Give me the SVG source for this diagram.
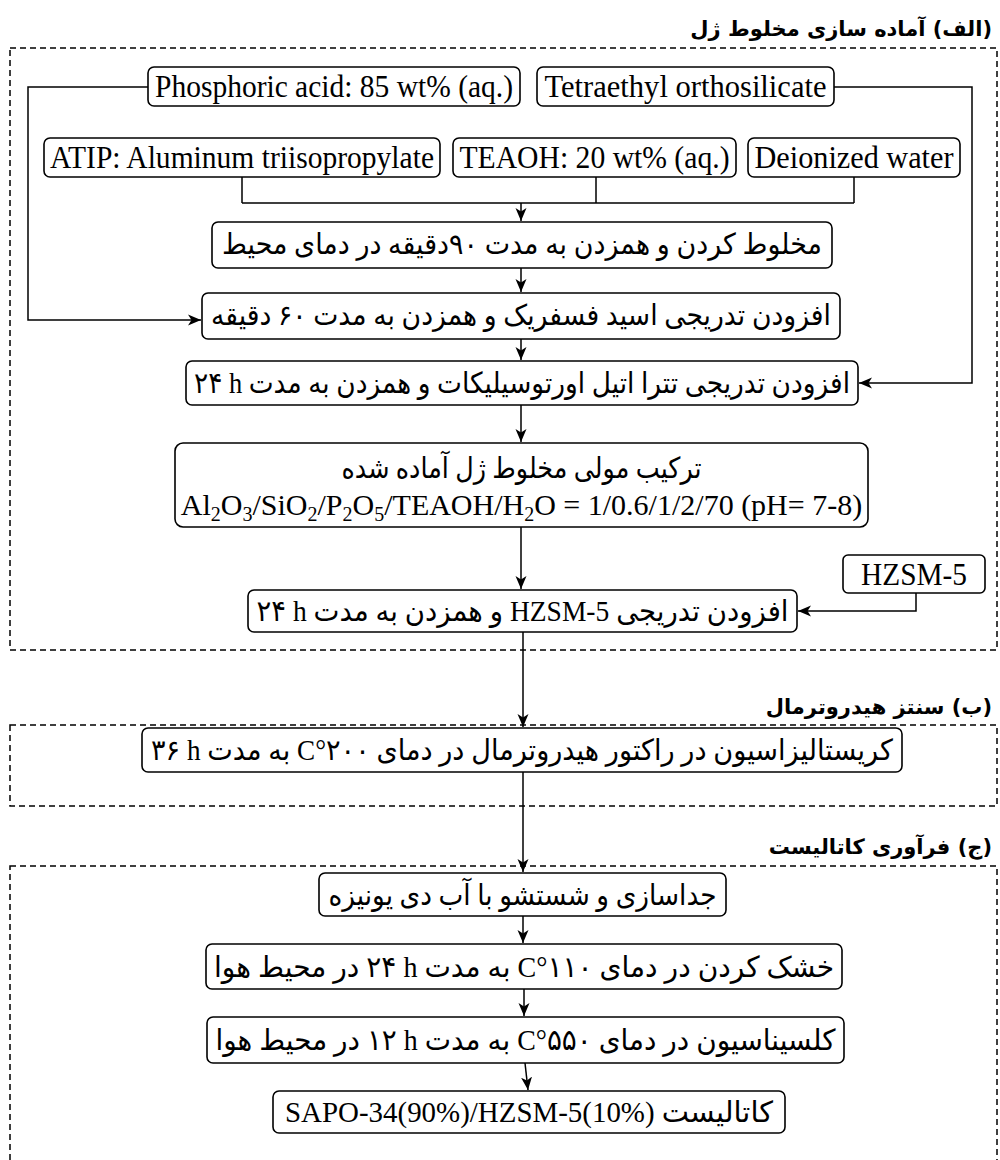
<svg xmlns="http://www.w3.org/2000/svg" width="1000" height="1160" viewBox="0 0 1000 1160">
<style>
.frame{fill:none;stroke:#000;stroke-width:1.5;stroke-dasharray:6 4}
.box{fill:#fff;stroke:#000;stroke-width:1.6}
.conn{fill:none;stroke:#000;stroke-width:1.5}
.lat{font-family:"Liberation Serif","DejaVu Serif",serif;font-size:32px;fill:#000}
.fa{font-family:"Liberation Serif","DejaVu Sans",sans-serif;font-size:29px;fill:#000;direction:rtl}
.title{font-family:"DejaVu Sans",sans-serif;font-size:21px;font-weight:bold;fill:#000;direction:rtl}
.sub{font-size:20px}
</style>
<defs>
<marker id="arr" markerUnits="userSpaceOnUse" markerWidth="14" markerHeight="12" refX="13" refY="6" orient="auto">
<path d="M0,0.5 L13,6 L0,11.5 L3.5,6 Z" fill="#000"/>
</marker>
</defs>
<g id="frames">
<rect class="frame" x="10" y="48" width="987" height="602"/>
<rect class="frame" x="10" y="725" width="987" height="81"/>
<rect class="frame" x="10" y="866" width="987" height="310"/>
<text class="title" x="992" y="36" text-anchor="start">(الف) آماده سازی مخلوط ژل</text>
<text class="title" x="992" y="714" text-anchor="start">(ب) سنتز هیدروترمال</text>
<text class="title" x="992" y="854" text-anchor="start">(ج) فرآوری کاتالیست</text>
</g>
<g id="connectors">
<path class="conn" d="M148,87 H28 V320 H201" marker-end="url(#arr)"/>
<path class="conn" d="M834,87 H972 V383 H859" marker-end="url(#arr)"/>
<path class="conn" d="M242,177 V203 M596,177 V203 M854,177 V203 M242,203 H854"/>
<path class="conn" d="M521,203 V221" marker-end="url(#arr)"/>
<path class="conn" d="M521,268 V292" marker-end="url(#arr)"/>
<path class="conn" d="M521,339 V360" marker-end="url(#arr)"/>
<path class="conn" d="M521,405 V442" marker-end="url(#arr)"/>
<path class="conn" d="M521,527 V589" marker-end="url(#arr)"/>
<path class="conn" d="M916,593 V611 H798" marker-end="url(#arr)"/>
<path class="conn" d="M523,632 V727" marker-end="url(#arr)"/>
<path class="conn" d="M523,772 V872" marker-end="url(#arr)"/>
<path class="conn" d="M523,916 V943" marker-end="url(#arr)"/>
<path class="conn" d="M524,989 V1016" marker-end="url(#arr)"/>
<path class="conn" d="M525,1063 L528,1090" marker-end="url(#arr)"/>
</g>
<g id="n-phosphoric">
<rect class="box" x="148" y="67" width="372" height="39" rx="6"/>
<text class="lat" x="334" y="97" text-anchor="middle" textLength="358" lengthAdjust="spacingAndGlyphs">Phosphoric acid: 85 wt% (aq.)</text>
</g>
<g id="n-teos">
<rect class="box" x="537" y="67" width="297" height="39" rx="6"/>
<text class="lat" x="685.5" y="97" text-anchor="middle" textLength="282" lengthAdjust="spacingAndGlyphs">Tetraethyl orthosilicate</text>
</g>
<g id="n-atip">
<rect class="box" x="44" y="138" width="396" height="39" rx="6"/>
<text class="lat" x="242" y="168" text-anchor="middle" textLength="384" lengthAdjust="spacingAndGlyphs">ATIP: Aluminum triisopropylate</text>
</g>
<g id="n-teaoh">
<rect class="box" x="453" y="138" width="283" height="39" rx="6"/>
<text class="lat" x="594.5" y="168" text-anchor="middle" textLength="270" lengthAdjust="spacingAndGlyphs">TEAOH: 20 wt% (aq.)</text>
</g>
<g id="n-water">
<rect class="box" x="748" y="138" width="212" height="39" rx="6"/>
<text class="lat" x="854" y="168" text-anchor="middle" textLength="199" lengthAdjust="spacingAndGlyphs">Deionized water</text>
</g>
<g id="n-mix">
<rect class="box" x="212" y="222" width="620" height="46" rx="6"/>
<text class="fa" x="522" y="254" text-anchor="middle" textLength="600" lengthAdjust="spacingAndGlyphs">مخلوط کردن و همزدن به مدت ۹۰دقیقه در دمای محیط</text>
</g>
<g id="n-acid">
<rect class="box" x="202" y="293" width="638" height="46" rx="6"/>
<text class="fa" x="521" y="325" text-anchor="middle" textLength="620" lengthAdjust="spacingAndGlyphs">افزودن تدریجی اسید فسفریک و همزدن به مدت ۶۰ دقیقه</text>
</g>
<g id="n-teos-add">
<rect class="box" x="186" y="361" width="672" height="44" rx="6"/>
<text class="fa" x="522" y="393" text-anchor="middle" textLength="656" lengthAdjust="spacingAndGlyphs">افزودن تدریجی تترا اتیل اورتوسیلیکات و همزدن به مدت h&#x200F; ۲۴</text>
</g>
<g id="n-gel">
<rect class="box" x="175" y="443" width="693" height="84" rx="8"/>
<text class="fa" x="521.5" y="478" text-anchor="middle" textLength="360" lengthAdjust="spacingAndGlyphs">ترکیب مولی مخلوط ژل آماده شده</text>
<text class="lat" x="521.5" y="515" text-anchor="middle" style="font-size:30px">Al<tspan class="sub" baseline-shift="-6">2</tspan>O<tspan class="sub" baseline-shift="-6">3</tspan>/SiO<tspan class="sub" baseline-shift="-6">2</tspan>/P<tspan class="sub" baseline-shift="-6">2</tspan>O<tspan class="sub" baseline-shift="-6">5</tspan>/TEAOH/H<tspan class="sub" baseline-shift="-6">2</tspan>O = 1/0.6/1/2/70 (pH= 7-8)</text>
</g>
<g id="n-hzsm">
<rect class="box" x="843" y="555" width="142" height="38" rx="5"/>
<text class="lat" x="914" y="585" text-anchor="middle" textLength="106" lengthAdjust="spacingAndGlyphs">HZSM-5</text>
</g>
<g id="n-hzsm-add">
<rect class="box" x="248" y="590" width="549" height="42" rx="6"/>
<text class="fa" x="522.5" y="621" text-anchor="middle" textLength="532" lengthAdjust="spacingAndGlyphs">افزودن تدریجی HZSM-5 و همزدن به مدت h&#x200F; ۲۴</text>
</g>
<g id="n-cryst">
<rect class="box" x="142" y="728" width="760" height="44" rx="6"/>
<text class="fa" x="522" y="760" text-anchor="middle" textLength="742" lengthAdjust="spacingAndGlyphs">کریستالیزاسیون در راکتور هیدروترمال در دمای ۲۰۰°C به مدت h&#x200F; ۳۶</text>
</g>
<g id="n-wash">
<rect class="box" x="319" y="873" width="407" height="43" rx="6"/>
<text class="fa" x="522.5" y="905" text-anchor="middle" textLength="388" lengthAdjust="spacingAndGlyphs">جداسازی و شستشو با آب دی یونیزه</text>
</g>
<g id="n-dry">
<rect class="box" x="206" y="944" width="636" height="45" rx="6"/>
<text class="fa" x="524" y="977" text-anchor="middle" textLength="620" lengthAdjust="spacingAndGlyphs">خشک کردن در دمای ۱۱۰°C به مدت h&#x200F; ۲۴ در محیط هوا</text>
</g>
<g id="n-calc">
<rect class="box" x="207" y="1017" width="637" height="46" rx="6"/>
<text class="fa" x="525.5" y="1050" text-anchor="middle" textLength="620" lengthAdjust="spacingAndGlyphs">کلسیناسیون در دمای ۵۵۰°C به مدت h&#x200F; ۱۲ در محیط هوا</text>
</g>
<g id="n-cat">
<rect class="box" x="273" y="1091" width="512" height="42" rx="6"/>
<text class="fa" x="529" y="1122" text-anchor="middle" textLength="488" lengthAdjust="spacingAndGlyphs">کاتالیست SAPO-34(90%)/HZSM-5(10%)&#x200E;</text>
</g>
</svg>
